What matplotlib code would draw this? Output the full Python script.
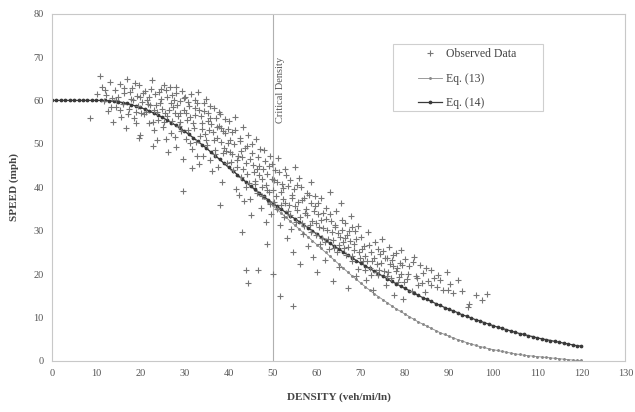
import matplotlib
matplotlib.use("Agg")
import matplotlib.pyplot as plt
from matplotlib.patches import Rectangle

plt.rcParams['font.family'] = ['Liberation Serif', 'DejaVu Serif']

# observed speed-density pairs (veh/mi/ln, mph)
obs_free = [
    (8.6, 56.0), (10.2, 61.5), (10.9, 65.6), (11.4, 63.0), (11.8, 59.8), (12.3, 61.2), (12.7, 57.5),
    (13.1, 64.2), (13.5, 60.5), (13.9, 55.0), (14.2, 62.3), (14.6, 58.4), (15.0, 60.9), (15.3, 63.8),
    (15.7, 56.2), (16.0, 59.1), (16.4, 61.7), (16.8, 53.6), (17.1, 64.9), (17.5, 58.0), (17.9, 60.3),
    (18.2, 62.8), (18.6, 55.9), (19.0, 57.4), (19.3, 61.0), (19.7, 63.5), (20.0, 52.1), (20.4, 59.6),
    (20.8, 56.8), (21.1, 62.1), (21.5, 60.2), (21.9, 54.7), (22.2, 58.9), (22.6, 64.6), (23.0, 57.7),
    (23.3, 61.4), (23.7, 50.8), (24.1, 55.6), (24.5, 59.3), (24.8, 62.6), (25.2, 53.9), (25.6, 57.1),
    (26.0, 60.7), (26.3, 48.2), (26.7, 63.2), (27.1, 55.2), (27.4, 58.5), (27.8, 51.6), (28.2, 61.8),
    (28.5, 56.4), (28.9, 59.9), (29.3, 53.0), (29.6, 46.5), (30.0, 57.9),
    (18.4, 60.0), (19.5, 58.7), (20.6, 61.6), (21.3, 57.3), (22.0, 60.8), (22.9, 55.1), (23.5, 59.0),
    (24.3, 61.9), (25.0, 58.1), (25.4, 55.0), (25.9, 62.4), (26.5, 57.8), (27.0, 52.6), (27.6, 60.1),
    (28.0, 63.1), (28.7, 54.2), (29.1, 57.0), (29.8, 60.6),
    (12.0, 62.4), (13.3, 58.6), (14.4, 60.1), (15.5, 57.8), (16.2, 62.9), (17.3, 56.9), (17.7, 61.9),
    (18.8, 63.9), (19.1, 54.8), (19.9, 60.8), (20.2, 57.0), (21.7, 59.1), (22.4, 62.6), (23.1, 53.2),
    (23.9, 57.4), (24.7, 60.3), (25.3, 63.5), (26.1, 56.3), (26.9, 59.5), (27.3, 61.2), (27.9, 57.2),
    (28.4, 59.0), (29.0, 55.0), (29.5, 62.2), (19.6, 51.3), (22.8, 49.5), (25.8, 51.0), (28.1, 49.2),
]
obs_mid = [
    (30.3, 51.1), (30.6, 55.4), (31.0, 58.8), (31.4, 61.5), (31.8, 48.9), (32.1, 53.7), (32.5, 56.6),
    (32.9, 59.5), (33.3, 45.3), (33.6, 51.9), (34.0, 54.8), (34.4, 57.6), (34.8, 60.4), (35.1, 49.7),
    (35.5, 53.1), (35.9, 55.9), (36.3, 43.8), (36.6, 58.3), (37.0, 47.6), (37.4, 51.3), (37.8, 54.2),
    (38.1, 56.9), (38.5, 41.2), (38.9, 49.0), (39.3, 52.4), (39.6, 45.5), (40.0, 55.3),
    (30.1, 60.9), (30.8, 53.3), (31.2, 56.1), (31.7, 44.4), (32.3, 58.2), (32.7, 50.5), (33.1, 62.0),
    (33.8, 56.3), (34.2, 47.3), (34.6, 52.2), (35.3, 57.1), (35.7, 46.2), (36.1, 54.5), (36.8, 50.9),
    (37.2, 56.0), (37.6, 44.7), (38.3, 53.6), (38.7, 47.8), (39.1, 55.8), (39.8, 50.2), (29.7, 39.2),
    (38.0, 36.0),
    (30.4, 57.0), (30.9, 59.6), (31.3, 50.3), (31.9, 54.9), (32.4, 60.2), (32.8, 47.1), (33.4, 57.9),
    (33.9, 53.4), (34.5, 59.3), (34.9, 50.8), (35.4, 55.3), (35.8, 58.8), (36.4, 52.7), (36.9, 48.6),
    (37.3, 53.8), (37.9, 57.3), (38.4, 50.4), (38.8, 52.9), (39.4, 48.3), (39.9, 53.5),
    (40.3, 48.1), (40.7, 52.7), (41.0, 44.0), (41.4, 56.2), (41.8, 39.6), (42.1, 47.2), (42.5, 50.6),
    (42.9, 42.3), (43.0, 29.6), (43.2, 53.9), (43.6, 36.8), (44.0, 45.6), (44.0, 20.9), (44.3, 49.4),
    (44.5, 17.9), (44.7, 41.0), (45.1, 33.7), (45.4, 47.8), (45.8, 43.4), (46.2, 51.2), (46.5, 38.6),
    (46.8, 20.9), (46.9, 45.0), (47.3, 35.2), (47.7, 41.9), (48.0, 48.6), (48.4, 31.9), (48.8, 27.0),
    (48.8, 39.3), (49.1, 44.8), (49.5, 36.1), (49.9, 42.0), (50.0, 20.0),
    (40.5, 45.9), (41.2, 50.0), (41.9, 46.3), (42.4, 38.2), (42.8, 48.3), (43.4, 44.1), (43.9, 40.1),
    (44.5, 52.0), (44.9, 37.4), (45.6, 45.1), (46.0, 40.7), (46.6, 47.0), (47.0, 42.8), (47.5, 38.0),
    (47.9, 44.2), (48.6, 40.5), (49.3, 47.3), (49.7, 33.8),
    (40.4, 50.9), (40.9, 47.7), (41.5, 53.2), (42.0, 44.7), (42.6, 51.4), (43.1, 46.9), (43.7, 49.1),
    (44.2, 43.0), (44.8, 46.4), (45.3, 49.9), (45.9, 41.4), (46.4, 44.1), (47.1, 48.9), (47.6, 40.1),
    (48.2, 46.0), (48.7, 43.0), (49.2, 38.8), (49.8, 45.4),
    (50.2, 39.4), (50.6, 43.9), (51.0, 35.0), (51.3, 46.7), (51.7, 15.0), (51.7, 31.2), (52.1, 40.8),
    (52.4, 37.2), (52.8, 44.1), (53.2, 28.4), (53.6, 34.5), (53.9, 41.6), (54.3, 38.3), (54.7, 12.6),
    (54.7, 25.1), (55.0, 44.6), (55.4, 32.0), (55.8, 36.6), (56.2, 22.4), (56.5, 40.0), (56.9, 29.3),
    (57.3, 34.0), (57.7, 38.7), (58.0, 26.5), (58.4, 31.4), (58.8, 41.3), (59.2, 23.9), (59.5, 35.7),
    (59.9, 29.0), (60.0, 20.5),
    (50.4, 36.7), (51.1, 41.3), (51.9, 38.9), (52.6, 33.1), (53.0, 42.9), (53.8, 36.0), (54.1, 30.3),
    (54.9, 39.5), (55.6, 34.8), (56.0, 42.2), (56.7, 31.8), (57.1, 37.5), (57.9, 33.6), (58.6, 36.3),
    (59.0, 32.3), (59.7, 38.0),
    (50.3, 41.7), (50.8, 38.0), (51.4, 43.5), (51.8, 35.9), (52.3, 39.9), (52.9, 36.4), (53.4, 40.2),
    (53.9, 33.5), (54.4, 37.6), (55.1, 35.6), (55.5, 40.6), (56.1, 33.2), (56.6, 37.0), (57.2, 31.0),
    (57.6, 35.1), (58.2, 38.2), (58.7, 29.8), (59.3, 34.5), (59.8, 31.7),
]
obs_cong = [
    (60.3, 33.9), (60.7, 26.9), (61.0, 37.6), (61.4, 30.5), (61.8, 23.3), (62.2, 35.2), (62.5, 28.1),
    (62.9, 39.0), (63.3, 32.2), (63.7, 18.3), (64.0, 26.0), (64.4, 34.6), (64.8, 29.4), (65.1, 21.7),
    (65.5, 36.4), (65.9, 27.5), (66.3, 31.7), (66.6, 24.4), (67.0, 16.8), (67.4, 29.9), (67.8, 33.3),
    (68.1, 22.9), (68.5, 27.0), (68.9, 19.5), (69.3, 31.0), (69.6, 25.2), (70.0, 28.6),
    (60.5, 30.8), (61.2, 28.4), (62.0, 32.6), (62.7, 25.8), (63.5, 29.7), (64.2, 31.4), (65.0, 26.7),
    (65.7, 30.1), (66.4, 28.2), (67.2, 26.3), (67.9, 24.1), (68.7, 30.0), (69.4, 21.1),
    (60.2, 36.3), (60.9, 32.5), (61.5, 34.0), (61.9, 27.4), (62.4, 30.1), (63.0, 33.8), (63.6, 27.8),
    (64.1, 30.9), (64.6, 25.2), (65.3, 28.5), (65.8, 32.4), (66.2, 25.9), (66.9, 29.1), (67.5, 27.6),
    (68.0, 30.8), (68.4, 25.6), (69.0, 28.0), (69.8, 23.6),
    (70.4, 23.1), (70.8, 26.4), (71.2, 18.7), (71.6, 29.8), (72.0, 21.5), (72.4, 25.0), (72.8, 16.3),
    (73.2, 27.5), (73.6, 22.3), (74.0, 19.8), (74.4, 24.6), (74.8, 28.0), (75.2, 20.7), (75.6, 17.4),
    (76.0, 23.8), (76.4, 26.2), (76.8, 19.2), (77.2, 21.9), (77.6, 15.2), (78.0, 24.9), (78.4, 18.1),
    (78.8, 22.6), (79.2, 20.1), (79.6, 14.3), (80.0, 23.4),
    (71.0, 24.2), (72.2, 19.9), (73.0, 23.7), (74.2, 21.0), (75.0, 25.3), (76.2, 20.4), (77.0, 23.2),
    (78.2, 21.4), (79.0, 25.5),
    (70.2, 25.8), (70.9, 21.0), (71.4, 22.9), (71.9, 26.8), (72.6, 23.0), (73.4, 20.5), (73.9, 25.7),
    (74.6, 22.5), (75.4, 23.6), (75.9, 19.5), (76.6, 22.4), (77.4, 24.4), (77.9, 20.7), (78.6, 19.3),
    (79.4, 22.0), (79.8, 18.1),
    (80.5, 18.9), (81.0, 21.8), (81.5, 16.2), (82.0, 24.0), (82.4, 19.6), (83.0, 17.5), (83.5, 22.2),
    (84.0, 20.2), (84.6, 15.8), (85.2, 18.4), (85.8, 21.0), (86.5, 19.0), (87.2, 17.0), (88.0, 18.6),
    (88.7, 16.4), (89.5, 20.5), (89.8, 16.3), (90.3, 17.8), (91.0, 15.6), (92.0, 18.7), (93.0, 16.0),
    (94.3, 12.4), (94.5, 13.0), (96.0, 15.1), (97.5, 14.0), (98.5, 15.4),
    (80.8, 20.0), (81.8, 22.7), (82.8, 19.0), (83.8, 18.0), (84.8, 21.4), (86.0, 17.6), (87.6, 19.8),
]

# model curves, one value per veh/mi/ln from 0 to 120
curve_density = list(range(0, 121))
eq14_speed = [
    60.0, 60.0, 60.0, 60.0, 60.0, 60.0, 60.0, 60.0, 60.0, 60.0, 60.0, 60.0, 60.0,
    59.9, 59.8, 59.7, 59.5, 59.3, 59.0, 58.7, 58.4, 58.0, 57.6, 57.1, 56.6, 56.1, 55.5, 54.9, 54.3,
    53.6, 52.9, 52.2, 51.4, 50.6, 49.8, 49.0, 48.1, 47.3, 46.4, 45.5, 44.6, 43.8, 42.9, 42.0, 41.2,
    40.3, 39.5, 38.7, 37.9, 37.1, 36.4, 35.6, 34.9, 34.2, 33.4, 32.8, 32.1, 31.4, 30.7, 30.0, 29.2,
    28.5, 27.8, 27.1, 26.4, 25.8, 25.1, 24.4, 23.8, 23.1, 22.5, 21.9, 21.3, 20.7, 20.1, 19.5, 18.9,
    18.3, 17.8, 17.2, 16.7, 16.2, 15.7, 15.1, 14.6, 14.2, 13.7, 13.2, 12.8, 12.3, 11.9, 11.5, 11.1,
    10.6, 10.3, 9.9, 9.5, 9.2, 8.8, 8.5, 8.1, 7.8, 7.5, 7.2, 6.9, 6.6, 6.3, 6.1, 5.8, 5.6, 5.3,
    5.1, 4.9, 4.7, 4.5, 4.3, 4.1, 3.9, 3.7, 3.5, 3.4,
]
eq13_speed = [
    60.0, 60.0, 60.0, 60.0, 60.0, 60.0, 60.0, 60.0, 60.0, 60.0, 60.0, 60.0, 60.0,
    59.9, 59.8, 59.7, 59.5, 59.3, 59.0, 58.7, 58.4, 58.0, 57.6, 57.1, 56.6, 56.1, 55.5, 54.9, 54.3,
    53.6, 52.9, 52.2, 51.4, 50.6, 49.8, 49.0, 48.1, 47.3, 46.4, 45.5, 44.6, 43.8, 42.9, 42.0, 41.1,
    40.2, 39.4, 38.5, 37.6, 36.7, 35.8, 34.9, 34.0, 33.1, 32.2, 31.3, 30.4, 29.5, 28.6, 27.7, 26.8,
    25.9, 25.0, 24.1, 23.2, 22.3, 21.4, 20.5, 19.6, 18.8, 17.9, 17.1, 16.3, 15.5, 14.8, 14.1, 13.4,
    12.7, 12.0, 11.4, 10.8, 10.2, 9.6, 9.0, 8.5, 8.0, 7.5, 7.0, 6.5, 6.1, 5.7, 5.3, 4.9,
    4.6, 4.2, 3.9, 3.6, 3.3, 3.1, 2.8, 2.6, 2.4, 2.2, 2.0, 1.8, 1.6, 1.5, 1.3, 1.2, 1.1, 1.0,
    0.9, 0.8, 0.7, 0.6, 0.5, 0.4, 0.3, 0.2, 0.1, 0.1,
]
critical_density = 50
x_ticks = list(range(0, 131, 10))
y_ticks = list(range(0, 81, 10))

fig = plt.figure(figsize=(6.35, 4.12), dpi=100)
ax = fig.add_axes([0.082, 0.124, 0.903, 0.843])

obs = obs_free + obs_mid + obs_cong
obs_k = [p[0] for p in obs]
obs_v = [p[1] for p in obs]
ax.plot(curve_density, eq13_speed, color='#8a8a8a', linewidth=0.6, marker='.', markersize=2.2,
        label='Eq. (13)', zorder=2)
ax.plot(curve_density, eq14_speed, color='#3a3a3a', linewidth=0.9, marker='.', markersize=3.4,
        label='Eq. (14)', zorder=2)
ax.plot(obs_k, obs_v, linestyle='none', marker='+', markersize=4, markeredgewidth=0.8,
        color='#767676', label='Observed Data', zorder=3)

ax.axvline(critical_density, color='#b0b0b0', linewidth=0.8, zorder=1)
ax.text(critical_density + 0.8, 62.5, 'Critical Density', rotation=90, ha='left', va='center',
        fontsize=7.5, color='#555555')

ax.set_xlim(0, 130)
ax.set_ylim(0, 80)
ax.set_xticks(x_ticks)
ax.set_yticks(y_ticks)
ax.tick_params(length=0, labelsize=7.5, labelcolor='#555555', pad=6)
for s in ax.spines.values():
    s.set_color('#c8c8c8')
    s.set_linewidth(0.8)

ax.set_xlabel('DENSITY (veh/mi/ln)', fontsize=8, fontweight='bold', color='#444444', labelpad=10)
ax.set_ylabel('SPEED (mph)', fontsize=8, fontweight='bold', color='#444444', labelpad=10)

# legend box drawn separately so the padding can be wider than tall
ax.add_patch(Rectangle((0.595, 0.72), 0.262, 0.193, transform=ax.transAxes, facecolor='white',
                       edgecolor='#cfcfcf', linewidth=0.8, zorder=4))
handles, labels = ax.get_legend_handles_labels()
order = [2, 0, 1]
leg = ax.legend([handles[i] for i in order], [labels[i] for i in order], loc='upper left',
                bbox_to_anchor=(0.639, 0.9), fontsize=8.5, frameon=False, handlelength=2.0,
                handletextpad=0.3, borderpad=0, borderaxespad=0, labelspacing=1.05)
leg.set_zorder(5)
for t in leg.get_texts():
    t.set_color('#444444')

fig.savefig('out.png', dpi=100)
